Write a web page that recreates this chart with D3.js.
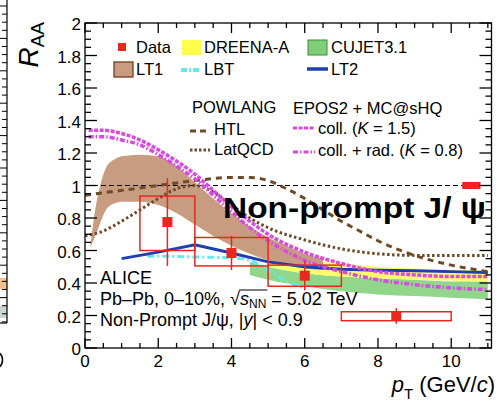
<!DOCTYPE html>
<html>
<head>
<meta charset="utf-8">
<script src="https://cdn.jsdelivr.net/npm/d3@7"></script>
<style>
  body { margin: 0; background: #fff; }
  svg { display: block; font-family: "Liberation Sans", Arial, sans-serif; }
</style>
</head>
<body>
<svg id="chart" width="500" height="404"></svg>
<script>
// ALICE data: non-prompt J/psi R_AA, Pb-Pb 0-10%
const dataPt = [2.25, 4, 6, 8.5];
const dataRaa = [0.775, 0.585, 0.445, 0.197];
const dataStat = [0.27, 0.105, 0.09, 0.048];
const binLo = [1.5, 3, 5, 7];
const binHi = [3, 5, 7, 10];
const systLo = [0.60, 0.505, 0.38, 0.168];
const systHi = [0.935, 0.68, 0.51, 0.223];
const globalPt = [10.3, 10.8];
const globalUnc = [0.978, 1.022];

// models
const lt1Pt = [0.15, 0.3, 0.45, 0.6, 0.8, 1.0, 1.5, 2.0, 2.5, 3.0, 3.5, 4.0, 4.5, 5.0, 5.5, 6.0, 6.5];
const lt1Hi = [0.64, 0.88, 1.03, 1.12, 1.16, 1.18, 1.19, 1.18, 1.12, 1.02, 0.92, 0.83, 0.75, 0.68, 0.63, 0.58, 0.55];
const lt1Lo = [0.62, 0.70, 0.79, 0.86, 0.89, 0.90, 0.90, 0.88, 0.83, 0.76, 0.69, 0.63, 0.58, 0.54, 0.51, 0.49, 0.48];

const dreenaPt = [5, 6, 7, 8, 9, 10, 11];
const dreenaHi = [0.60, 0.55, 0.52, 0.50, 0.49, 0.48, 0.475];
const dreenaLo = [0.50, 0.46, 0.44, 0.43, 0.42, 0.415, 0.41];

const cujetPt = [4.5, 5, 6, 7, 8, 9, 10, 11];
const cujetHi = [0.53, 0.50, 0.46, 0.44, 0.43, 0.42, 0.41, 0.41];
const cujetLo = [0.45, 0.42, 0.38, 0.35, 0.33, 0.32, 0.31, 0.30];

const lbtPt = [1.7, 2, 3, 4, 4.5, 5, 5.5, 6];
const lbt = [0.565, 0.565, 0.56, 0.555, 0.54, 0.48, 0.41, 0.37];

const lt2Pt = [1, 2, 3, 4, 5, 6, 7, 8, 9, 10, 11];
const lt2 = [0.55, 0.59, 0.635, 0.585, 0.53, 0.50, 0.485, 0.478, 0.475, 0.47, 0.465];

const htlPt = [0, 1, 2, 3, 4, 4.5, 5, 5.5, 6, 6.5, 7, 7.5, 8, 9, 10, 11];
const htl = [0.94, 0.97, 1.0, 1.03, 1.05, 1.05, 1.03, 0.98, 0.92, 0.85, 0.78, 0.72, 0.66, 0.57, 0.51, 0.47];

const latPt = [0, 0.5, 1, 1.5, 2, 2.5, 3, 3.5, 4, 4.5, 5, 6, 7, 8, 9, 10, 11];
const latqcd = [0.69, 0.72, 0.78, 0.85, 0.92, 0.98, 1.0, 0.96, 0.88, 0.80, 0.74, 0.665, 0.61, 0.58, 0.57, 0.57, 0.57];

const eposPt = [0.1, 0.5, 1, 1.5, 2, 2.5, 3, 3.5, 4, 4.5, 5, 6, 7, 8, 9, 10, 11];
const eposColl = [1.34, 1.34, 1.32, 1.28, 1.22, 1.15, 1.07, 0.97, 0.87, 0.78, 0.70, 0.59, 0.52, 0.47, 0.45, 0.44, 0.44];
const eposCollRad = [1.30, 1.30, 1.28, 1.25, 1.19, 1.12, 1.04, 0.94, 0.84, 0.74, 0.66, 0.54, 0.47, 0.42, 0.39, 0.37, 0.36];

const xMajor = [0, 2, 4, 6, 8, 10];
const yMajor = [0, 0.2, 0.4, 0.6, 0.8, 1, 1.2, 1.4, 1.6, 1.8, 2];

// layout
const pL = 85, pR = 491.5, pT = 23, pB = 348;
const x = d3.scaleLinear().domain([0, 11.1]).range([pL, pR]);
const y = d3.scaleLinear().domain([0, 2]).range([pB, pT]);

const svg = d3.select("#chart");
const red = "#e8281e", brown = "#6e4a26", magenta = "#d84ae0";

// sliver of the neighbouring panel at the left edge
const side = svg.append("g");
side.append("rect").attr("x", 0).attr("y", 278).attr("width", 7).attr("height", 11).attr("fill", "#f0c090");
side.append("rect").attr("x", 0).attr("y", 306).attr("width", 7).attr("height", 12).attr("fill", "#c8d8d0");
side.append("line").attr("x1", 7).attr("x2", 7).attr("y1", 0).attr("y2", 323).attr("stroke", "#000").attr("stroke-width", 1.2);
side.append("line").attr("x1", 0).attr("x2", 7).attr("y1", 323).attr("y2", 323).attr("stroke", "#000").attr("stroke-width", 1.2);
d3.range(6, 323, 8.1).forEach(function (v, i) {
  side.append("line").attr("x1", i % 4 === 0 ? 0 : 2).attr("x2", 7).attr("y1", v).attr("y2", v)
    .attr("stroke", "#000").attr("stroke-width", 1);
});
// right half of a cut-off digit from the neighbouring panel
side.append("ellipse").attr("cx", -2).attr("cy", 360).attr("rx", 4.5).attr("ry", 7)
  .attr("fill", "none").attr("stroke", "#000").attr("stroke-width", 1.6);

// bands
function band(ptv, lo, hi) {
  const pts = ptv.map(function (p, i) { return [p, lo[i], hi[i]]; });
  return d3.area().x(function (d) { return x(d[0]); })
    .y0(function (d) { return y(d[1]); }).y1(function (d) { return y(d[2]); })
    .curve(d3.curveMonotoneX)(pts);
}
function line(ptv, v, curve) {
  return d3.line().x(function (d) { return x(d[0]); }).y(function (d) { return y(d[1]); })
    .curve(curve || d3.curveMonotoneX)(ptv.map(function (p, i) { return [p, v[i]]; }));
}

svg.append("path").attr("d", band(cujetPt, cujetLo, cujetHi)).attr("fill", "#7fcf78").attr("fill-opacity", 0.85);
svg.append("path").attr("d", band(dreenaPt, dreenaLo, dreenaHi)).attr("fill", "#ffff4a").attr("fill-opacity", 0.8);
svg.append("path").attr("d", band(lt1Pt, lt1Lo, lt1Hi)).attr("fill", "#c79c80");

// reference line at 1
svg.append("line").attr("x1", pL).attr("x2", pR).attr("y1", y(1)).attr("y2", y(1))
  .attr("stroke", "#000").attr("stroke-width", 1.2).attr("stroke-dasharray", "5,3");

// model curves
svg.append("path").attr("d", line(lbtPt, lbt)).attr("fill", "none").attr("stroke", "#6ae6f2")
  .attr("stroke-width", 3).attr("stroke-dasharray", "7,3,2,3");
svg.append("path").attr("d", line(lt2Pt, lt2, d3.curveLinear)).attr("fill", "none").attr("stroke", "#1f3fb0")
  .attr("stroke-width", 3);
svg.append("path").attr("d", line(htlPt, htl)).attr("fill", "none").attr("stroke", brown)
  .attr("stroke-width", 3).attr("stroke-dasharray", "6,5");
svg.append("path").attr("d", line(latPt, latqcd)).attr("fill", "none").attr("stroke", brown)
  .attr("stroke-width", 3).attr("stroke-dasharray", "2.5,2.5");
svg.append("path").attr("d", line(eposPt, eposColl)).attr("fill", "none").attr("stroke", magenta)
  .attr("stroke-width", 3.5).attr("stroke-dasharray", "4,1.5");
svg.append("path").attr("d", line(eposPt, eposCollRad)).attr("fill", "none").attr("stroke", magenta)
  .attr("stroke-width", 3.5).attr("stroke-dasharray", "5,2,1.5,2");

// data: systematic boxes, stat bars, markers
const dg = svg.append("g");
dataPt.forEach(function (p, i) {
  dg.append("rect").attr("x", x(binLo[i])).attr("width", x(binHi[i]) - x(binLo[i]))
    .attr("y", y(systHi[i])).attr("height", y(systLo[i]) - y(systHi[i]))
    .attr("fill", "none").attr("stroke", red).attr("stroke-width", 1.5);
  dg.append("line").attr("x1", x(p)).attr("x2", x(p))
    .attr("y1", y(dataRaa[i] + dataStat[i])).attr("y2", y(dataRaa[i] - dataStat[i]))
    .attr("stroke", red).attr("stroke-width", 1.5);
  dg.append("rect").attr("x", x(p) - 5).attr("y", y(dataRaa[i]) - 5).attr("width", 10).attr("height", 10).attr("fill", red);
});
dg.append("rect").attr("x", x(globalPt[0])).attr("width", x(globalPt[1]) - x(globalPt[0]))
  .attr("y", y(globalUnc[1])).attr("height", y(globalUnc[0]) - y(globalUnc[1])).attr("fill", red);

// frame + ticks
const ax = svg.append("g").attr("stroke", "#000").attr("stroke-width", 1.3);
ax.append("rect").attr("x", pL).attr("y", pT).attr("width", pR - pL).attr("height", pB - pT).attr("fill", "none");
d3.range(0, 11.01, 0.5).forEach(function (v) {
  const len = v % 2 === 0 ? 10 : 5;
  ax.append("line").attr("x1", x(v)).attr("x2", x(v)).attr("y1", pB).attr("y2", pB - len);
  ax.append("line").attr("x1", x(v)).attr("x2", x(v)).attr("y1", pT).attr("y2", pT + len);
});
d3.range(0, 2.001, 0.05).forEach(function (v, i) {
  const len = i % 4 === 0 ? 12 : 6;
  ax.append("line").attr("x1", pL).attr("x2", pL + len).attr("y1", y(v)).attr("y2", y(v));
  ax.append("line").attr("x1", pR).attr("x2", pR - len).attr("y1", y(v)).attr("y2", y(v));
});

// tick labels
svg.append("g").selectAll("text").data(xMajor).join("text")
  .attr("x", function (d) { return x(d); }).attr("y", 367).attr("text-anchor", "middle")
  .attr("font-size", 17).text(function (d) { return d; });
svg.append("g").selectAll("text").data(yMajor).join("text")
  .attr("x", 81).attr("y", function (d) { return y(d) + 7; }).attr("text-anchor", "end")
  .attr("font-size", 17).text(function (d) { return d3.format("~g")(d); });

// axis titles
const yt = svg.append("text").attr("transform", "translate(38,22) rotate(-90)").attr("text-anchor", "end");
yt.append("tspan").attr("font-size", 28).attr("font-style", "italic").text("R");
yt.append("tspan").attr("font-size", 19).attr("dy", 6).text("AA");
const xt = svg.append("text").attr("x", 495).attr("y", 392).attr("text-anchor", "end").attr("font-size", 22);
xt.append("tspan").attr("font-style", "italic").text("p");
xt.append("tspan").attr("font-size", 15).attr("dy", 7).text("T");
xt.append("tspan").attr("dy", -7).text(" (GeV/");
xt.append("tspan").attr("font-style", "italic").text("c");
xt.append("tspan").text(")");

// legend
const lg = svg.append("g").attr("font-size", 16.5);
lg.append("rect").attr("x", 118).attr("y", 43).attr("width", 8).attr("height", 8).attr("fill", red);
lg.append("text").attr("x", 136).attr("y", 53).text("Data");
lg.append("rect").attr("x", 182).attr("y", 40).attr("width", 19).attr("height", 15).attr("fill", "#ffff4a");
lg.append("text").attr("x", 204).attr("y", 53).text("DREENA-A");
lg.append("rect").attr("x", 308).attr("y", 40).attr("width", 19).attr("height", 15).attr("fill", "#7fcf78").attr("stroke", "#3a8a3a");
lg.append("text").attr("x", 331).attr("y", 53).text("CUJET3.1");
lg.append("rect").attr("x", 114).attr("y", 62).attr("width", 19).attr("height", 15).attr("fill", "#c79c80").attr("stroke", "#7a3a22").attr("stroke-width", 1.3);
lg.append("text").attr("x", 136).attr("y", 75).text("LT1");
lg.append("line").attr("x1", 181).attr("x2", 201).attr("y1", 70).attr("y2", 70).attr("stroke", "#6ae6f2").attr("stroke-width", 4).attr("stroke-dasharray", "6,2,2,2");
lg.append("text").attr("x", 204).attr("y", 75).text("LBT");
lg.append("line").attr("x1", 307).attr("x2", 328).attr("y1", 69).attr("y2", 69).attr("stroke", "#1f3fb0").attr("stroke-width", 3.5);
lg.append("text").attr("x", 331).attr("y", 75).text("LT2");

lg.append("text").attr("x", 192).attr("y", 113).text("POWLANG");
lg.append("line").attr("x1", 190).attr("x2", 210).attr("y1", 131).attr("y2", 131).attr("stroke", brown).attr("stroke-width", 3).attr("stroke-dasharray", "6,4");
lg.append("text").attr("x", 214).attr("y", 135).text("HTL");
lg.append("line").attr("x1", 190).attr("x2", 210).attr("y1", 150).attr("y2", 150).attr("stroke", brown).attr("stroke-width", 3).attr("stroke-dasharray", "2.5,2");
lg.append("text").attr("x", 214).attr("y", 155).text("LatQCD");

lg.append("text").attr("x", 293).attr("y", 114).text("EPOS2 + MC@sHQ");
lg.append("line").attr("x1", 293).attr("x2", 315).attr("y1", 128).attr("y2", 128).attr("stroke", magenta).attr("stroke-width", 3).attr("stroke-dasharray", "4,1.5");
const c1 = lg.append("text").attr("x", 318).attr("y", 134);
c1.append("tspan").text("coll. (");
c1.append("tspan").attr("font-style", "italic").text("K");
c1.append("tspan").text(" = 1.5)");
lg.append("line").attr("x1", 293).attr("x2", 315).attr("y1", 152).attr("y2", 152).attr("stroke", magenta).attr("stroke-width", 3).attr("stroke-dasharray", "5,2,1.5,2");
const c2 = lg.append("text").attr("x", 318).attr("y", 156);
c2.append("tspan").text("coll. + rad. (");
c2.append("tspan").attr("font-style", "italic").text("K");
c2.append("tspan").text(" = 0.8)");

// big label
svg.append("text").attr("x", 223).attr("y", 218).attr("font-size", 29).attr("font-weight", "bold")
  .attr("textLength", 263).attr("lengthAdjust", "spacingAndGlyphs")
  .text("Non-prompt J/ \u03c8");

// ALICE labels
const tg = svg.append("g").attr("font-size", 18);
tg.append("text").attr("x", 100).attr("y", 284).text("ALICE");
const t2 = tg.append("text").attr("x", 100).attr("y", 304.5);
t2.append("tspan").text("Pb\u2013Pb, 0\u201310%, \u221A");
t2.append("tspan").attr("font-style", "italic").text("s");
t2.append("tspan").attr("font-size", 12).attr("dy", 3).text("NN");
t2.append("tspan").attr("dy", -3).text(" = 5.02 TeV");
// overline over s_NN
const tn = t2.node();
const full = tn.textContent;
const iS = full.indexOf("\u221A") + 1;
const iN = iS + 2;
const ox1 = tn.getStartPositionOfChar(iS).x, ox2 = tn.getEndPositionOfChar(iN).x;
tg.append("line").attr("x1", ox1 - 1).attr("x2", ox2 + 1).attr("y1", 290).attr("y2", 290).attr("stroke", "#000").attr("stroke-width", 1);
const t3 = tg.append("text").attr("x", 100).attr("y", 325.5);
t3.append("tspan").text("Non-Prompt J/\u03c8, |");
t3.append("tspan").attr("font-style", "italic").text("y");
t3.append("tspan").text("| < 0.9");
</script>
</body>
</html>
